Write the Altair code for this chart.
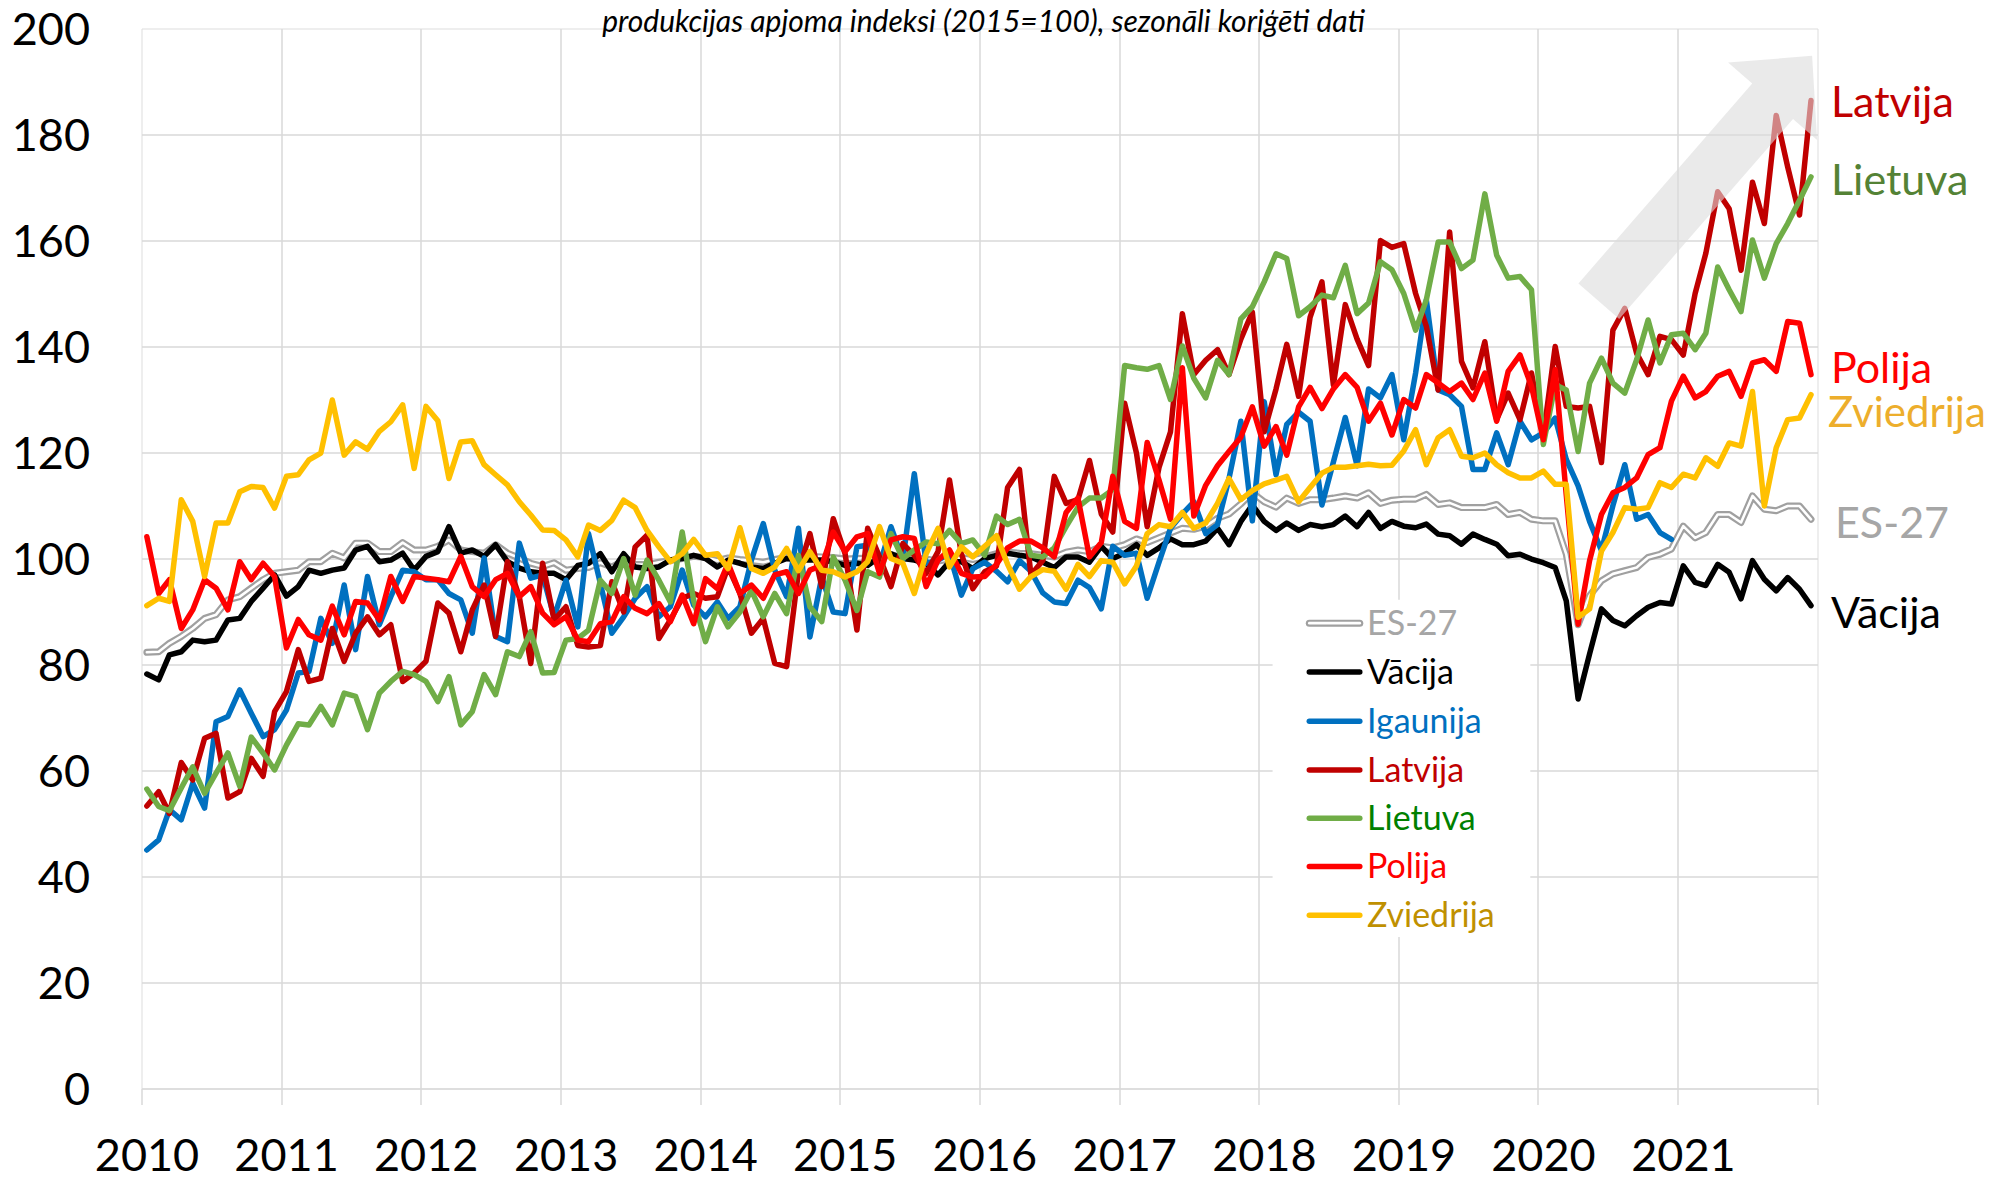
import altair as alt
import pandas as pd

# ---------------- data ----------------
series_names = ["ES-27", "Vācija", "Igaunija", "Latvija", "Lietuva", "Polija", "Zviedrija"]
line_colors = ["#A0A0A0", "#000000", "#0070C0", "#C00000", "#70AD47", "#FF0000", "#FFC000"]
legend_label_colors = ["#A6A6A6", "#000000", "#0070C0", "#C00000", "#008000", "#FF0000", "#BF9000"]

es27 = [
    82.3, 82.4, 84.0, 85.3, 86.8, 88.7, 89.4, 92.2, 92.8, 94.4, 96.0, 97.2,
    97.5, 97.8, 99.4, 99.4, 101.0, 100.1, 102.9, 102.9, 101.3, 101.3, 103.0, 101.6,
    101.6, 102.3, 103.5, 101.6, 101.3, 101.0, 102.6, 101.0, 100.1, 99.1, 98.5, 99.2,
    97.8, 98.1, 98.3, 99.2, 98.4, 99.6, 98.9, 98.8, 99.3, 99.6, 100.0, 100.4,
    100.2, 99.6, 100.1, 99.8, 99.6, 99.3, 99.8, 100.2, 100.1, 100.4, 100.3, 100.2,
    99.9, 100.0, 100.1, 100.4, 100.7, 100.2, 100.1, 99.9, 99.5, 99.9, 100.2, 99.8,
    100.3, 100.9, 101.2, 101.0, 100.9, 100.6, 100.3, 101.2, 101.6, 101.3, 102.3, 102.0,
    102.6, 103.7, 103.0, 103.9, 104.8, 105.7, 105.5, 106.1, 107.6, 108.4, 110.3, 112.4,
    110.7, 109.7, 111.4, 110.4, 111.1, 111.1, 111.4, 111.8, 111.4, 112.4, 110.4, 111.0,
    111.2, 111.2, 112.1, 110.2, 110.5, 109.6, 109.6, 109.6, 110.2, 108.3, 108.7, 107.4,
    107.1, 107.1, 100.8, 87.5, 93.0, 95.8, 97.1, 97.7, 98.3, 100.2, 100.8, 101.8,
    106.1, 103.9, 104.9, 108.3, 108.3, 106.8, 111.8, 109.3, 109.0, 109.9, 109.9, 107.4,
]
vacija = [
    78.2, 77.1, 81.8, 82.4, 84.6, 84.3, 84.6, 88.4, 88.7, 91.9, 94.4, 96.9,
    92.9, 94.7, 97.8, 97.2, 97.8, 98.2, 101.6, 102.3, 99.4, 99.7, 101.0, 97.8,
    100.4, 101.3, 106.0, 101.0, 101.6, 100.4, 102.6, 99.4, 98.2, 97.5, 97.2, 97.2,
    96.0, 98.7, 99.1, 100.9, 97.5, 100.9, 98.4, 98.1, 98.4, 99.7, 100.0, 100.6,
    100.0, 98.4, 99.7, 99.1, 98.4, 98.1, 99.1, 100.0, 99.7, 99.7, 99.7, 99.4,
    98.7, 99.1, 98.7, 100.3, 100.9, 100.0, 99.7, 99.1, 96.9, 99.4, 99.4, 98.1,
    100.0, 100.6, 101.0, 100.6, 100.3, 99.3, 98.3, 100.3, 100.3, 99.3, 102.3, 100.0,
    101.0, 102.6, 100.6, 102.0, 103.7, 102.6, 102.6, 103.3, 105.7, 102.6, 107.0, 110.1,
    107.0, 105.3, 106.7, 105.3, 106.4, 106.0, 106.4, 108.0, 106.0, 108.7, 105.7, 107.0,
    106.1, 105.8, 106.5, 104.6, 104.3, 102.7, 104.6, 103.6, 102.7, 100.5, 100.8, 99.9,
    99.2, 98.3, 92.0, 73.5, 82.0, 90.5, 88.3, 87.3, 89.2, 90.8, 91.7, 91.4,
    98.6, 95.5, 94.9, 98.9, 97.4, 92.4, 99.6, 96.1, 93.9, 96.4, 94.2, 91.1,
]
igaunija = [
    45.0, 46.9, 52.6, 50.7, 57.6, 52.9, 69.2, 70.2, 75.2, 70.8, 66.4, 67.7,
    71.4, 78.4, 78.7, 88.7, 84.0, 95.0, 82.8, 96.6, 87.5, 92.8, 97.8, 97.5,
    96.0, 96.0, 93.4, 92.2, 85.9, 100.1, 85.3, 84.3, 102.9, 96.3, 96.9, 89.0,
    95.9, 87.1, 104.7, 95.3, 85.9, 89.0, 92.5, 94.7, 89.0, 90.9, 97.8, 91.2,
    89.0, 91.8, 88.7, 90.9, 99.7, 106.6, 97.8, 92.8, 105.7, 85.2, 96.5, 89.9,
    89.6, 102.2, 102.5, 98.7, 106.0, 99.7, 116.0, 99.1, 99.7, 100.9, 93.1, 98.1,
    99.3, 97.6, 95.6, 99.6, 97.6, 93.5, 91.8, 91.5, 95.9, 94.5, 90.5, 102.3,
    100.6, 101.0, 92.5, 99.3, 105.7, 108.4, 110.7, 104.7, 106.4, 115.1, 125.9, 107.1,
    129.6, 115.8, 125.3, 127.6, 125.9, 110.1, 118.2, 126.6, 117.5, 132.0, 130.3, 134.7,
    122.4, 135.0, 148.8, 131.8, 130.9, 128.7, 116.8, 116.8, 123.7, 117.7, 125.9, 122.4,
    123.7, 126.5, 118.7, 113.7, 107.0, 101.5, 110.0, 117.7, 107.4, 108.3, 104.9, 103.6,
]
latvija = [
    53.3, 56.0, 51.9, 61.5, 58.2, 66.1, 67.0, 54.8, 56.0, 62.3, 58.9, 71.1,
    74.9, 82.8, 76.8, 77.4, 86.8, 80.6, 85.9, 89.0, 85.6, 87.5, 76.8, 78.4,
    80.6, 91.6, 89.7, 82.4, 90.3, 95.0, 85.3, 99.4, 92.8, 80.2, 99.1, 88.4,
    90.9, 83.6, 83.3, 83.6, 95.6, 89.9, 102.2, 104.4, 84.9, 88.4, 92.5, 93.4,
    92.5, 92.8, 98.4, 93.4, 85.9, 88.7, 80.2, 79.6, 97.5, 104.7, 94.7, 107.5,
    100.9, 86.5, 105.7, 100.3, 94.7, 102.8, 100.6, 97.2, 101.3, 114.8, 100.9, 94.3,
    97.5, 98.6, 113.4, 116.8, 96.9, 99.6, 115.5, 110.4, 111.1, 118.5, 108.4, 105.0,
    129.3, 119.9, 106.0, 117.2, 123.9, 146.2, 134.7, 137.4, 139.4, 134.7, 141.4, 146.5,
    123.9, 132.0, 140.4, 130.6, 145.5, 152.2, 132.7, 147.9, 141.4, 136.4, 160.0, 158.7,
    159.4, 150.0, 143.8, 131.8, 161.6, 137.2, 132.2, 140.9, 126.2, 131.2, 126.2, 135.0,
    123.1, 140.0, 128.7, 128.4, 128.7, 118.1, 143.1, 147.2, 138.7, 134.7, 141.9, 141.3,
    138.4, 150.0, 157.6, 169.2, 166.0, 154.4, 171.0, 163.2, 183.6, 173.9, 164.8, 186.4,
]
lietuva = [
    56.5, 53.2, 52.4, 56.7, 60.7, 55.7, 59.5, 63.3, 57.0, 66.3, 63.3, 60.1,
    64.8, 68.8, 68.6, 72.1, 68.6, 74.6, 74.0, 67.7, 74.6, 76.8, 78.7, 78.1,
    76.8, 73.0, 77.7, 68.6, 71.1, 78.1, 74.3, 82.4, 81.5, 86.2, 78.4, 78.5,
    84.6, 84.9, 86.5, 95.9, 93.4, 100.0, 93.1, 99.7, 95.9, 91.8, 105.0, 92.1,
    84.3, 90.9, 87.1, 89.9, 94.0, 89.0, 93.4, 89.6, 100.6, 90.9, 88.1, 100.3,
    95.9, 90.2, 97.5, 96.5, 104.7, 100.0, 101.6, 103.1, 102.8, 105.3, 102.8, 103.5,
    100.6, 108.0, 106.4, 107.4, 100.6, 100.3, 102.0, 106.0, 109.7, 111.4, 111.4, 113.0,
    136.4, 136.0, 135.7, 136.4, 130.0, 140.1, 134.0, 130.3, 137.4, 134.7, 145.2, 147.5,
    152.2, 157.5, 156.6, 145.8, 147.5, 149.7, 149.2, 155.3, 146.2, 148.2, 156.0, 154.5,
    150.0, 143.1, 148.8, 159.7, 159.7, 154.7, 156.3, 168.8, 157.2, 152.9, 153.2, 150.7,
    121.5, 132.8, 131.8, 120.2, 133.1, 137.8, 133.1, 131.2, 137.5, 145.0, 136.9, 142.2,
    142.5, 139.4, 142.5, 155.0, 150.7, 146.6, 160.1, 152.9, 159.4, 163.2, 167.6, 172.0,
]
polija = [
    104.1, 93.4, 96.0, 86.8, 90.3, 96.0, 94.4, 90.3, 99.4, 96.0, 99.1, 96.6,
    83.1, 88.5, 85.6, 84.6, 91.0, 85.6, 91.9, 91.6, 88.4, 96.6, 91.9, 96.6,
    96.3, 96.0, 95.6, 100.4, 94.7, 92.8, 96.0, 97.2, 92.8, 94.7, 89.7, 87.5,
    89.0, 84.6, 84.3, 87.7, 88.1, 92.8, 90.6, 89.6, 91.5, 88.1, 93.1, 87.7,
    96.2, 94.3, 99.1, 93.4, 95.0, 92.5, 96.9, 97.5, 93.4, 97.8, 98.7, 105.0,
    101.3, 104.1, 104.7, 97.2, 103.5, 104.1, 103.8, 94.7, 99.7, 101.6, 97.2, 96.5,
    96.6, 98.9, 102.0, 103.3, 103.3, 102.0, 100.3, 108.7, 111.4, 100.3, 103.0, 115.5,
    107.0, 105.7, 121.9, 114.8, 107.4, 136.0, 108.0, 113.8, 117.5, 120.2, 122.9, 128.6,
    121.2, 124.9, 119.5, 128.6, 132.3, 128.3, 132.0, 134.7, 132.3, 125.9, 129.3, 123.3,
    130.0, 128.4, 134.7, 133.1, 131.5, 133.1, 130.0, 135.0, 125.9, 135.3, 138.4, 132.5,
    122.4, 135.6, 112.0, 87.6, 99.6, 108.3, 112.4, 113.4, 115.2, 119.6, 120.9, 129.7,
    134.4, 130.3, 131.5, 134.4, 135.3, 130.6, 136.9, 137.5, 135.3, 144.7, 144.4, 134.7,
]
zviedrija = [
    91.1, 92.5, 91.9, 111.1, 107.0, 96.6, 106.7, 106.7, 112.6, 113.6, 113.4, 109.5,
    115.5, 115.8, 118.6, 119.9, 129.9, 119.5, 122.0, 120.6, 124.0, 125.8, 129.0, 117.0,
    128.7, 126.0, 115.1, 122.0, 122.2, 117.7, 115.8, 113.9, 110.7, 108.2, 105.4, 105.3,
    103.5, 100.3, 106.3, 105.3, 107.2, 111.0, 109.6, 105.3, 102.2, 99.4, 100.9, 103.6,
    100.6, 100.9, 98.1, 105.8, 98.1, 97.2, 98.4, 101.9, 97.7, 101.3, 97.8, 97.5,
    96.5, 97.5, 99.4, 106.0, 100.0, 99.1, 93.4, 100.9, 105.7, 98.4, 102.2, 100.3,
    102.3, 104.3, 98.9, 94.2, 96.6, 97.9, 97.6, 94.2, 98.9, 96.6, 99.6, 99.3,
    95.2, 98.6, 104.7, 106.4, 106.0, 108.7, 105.7, 106.7, 110.4, 115.1, 111.1, 112.8,
    114.1, 114.8, 115.5, 110.7, 113.4, 116.1, 117.2, 117.2, 117.5, 117.8, 117.5, 117.6,
    120.3, 124.3, 117.7, 122.8, 124.3, 119.3, 119.0, 119.9, 117.7, 116.2, 115.2, 115.2,
    116.5, 114.0, 114.0, 88.9, 90.5, 101.4, 104.9, 109.6, 109.3, 109.6, 114.3, 113.4,
    115.9, 115.2, 119.0, 117.4, 121.8, 121.2, 131.5, 109.9, 120.9, 126.2, 126.5, 130.9,
]
series_values = [es27, vacija, igaunija, latvija, lietuva, polija, zviedrija]

# end-of-line labels
end_labels = ["Latvija", "Lietuva", "Polija", "Zviedrija", "ES-27", "Vācija"]
end_label_colors = ["#C00000", "#548235", "#FF0000", "#EDAE2C", "#A6A6A6", "#000000"]
end_label_values = [185.7, 171.0, 135.6, 127.2, 106.4, 89.3]

# legend rows (value positions of the entries, in data units)
legend_row_values = [87.8, 78.6, 69.3, 60.1, 51.0, 41.9, 32.7]
legend_box = {"x": "2018-02-06", "x2": "2019-12-12", "y": 92.2, "y2": 28.6}
legend_sym = {"x": "2018-05-13", "x2": "2018-09-22"}
legend_text_x = "2018-10-11"

# arrow annotation (centre of the arrow in data units)
arrow_date = ["2021-03-14"]
arrow_value = [171.7]

title_text = "produkcijas apjoma indeksi (2015=100), sezonāli koriģēti dati"

# ---------------- build tables ----------------
dates = pd.date_range("2010-01-01", periods=144, freq="MS") + pd.Timedelta(days=14)
rows = []
for name, vals in zip(series_names, series_values):
    for d, v in zip(dates, vals):
        rows.append({"series": name, "date": d, "value": v})
df = pd.DataFrame(rows)

last_date = dates[-1]
lab_df = pd.DataFrame({"series": end_labels, "date": [last_date] * len(end_labels),
                       "value": end_label_values})
arrow_df = pd.DataFrame({"date": pd.to_datetime(arrow_date), "value": arrow_value})
leg_df = pd.DataFrame({
    "series": series_names,
    "value": legend_row_values,
    "x": pd.to_datetime([legend_sym["x"]] * 7),
    "x2": pd.to_datetime([legend_sym["x2"]] * 7),
    "tx": pd.to_datetime([legend_text_x] * 7),
})
box_df = pd.DataFrame({"x": pd.to_datetime([legend_box["x"]]),
                       "x2": pd.to_datetime([legend_box["x2"]]),
                       "y": [legend_box["y"]], "y2": [legend_box["y2"]]})
title_df = pd.DataFrame({"t": [title_text]})

# ---------------- scales / axes ----------------
FONT = "Lato"
GRID = "#D9D9D9"
W, H = 1676, 1060
x_scale = alt.Scale(domain=[alt.DateTime(year=2010, month=1, date=1),
                            alt.DateTime(year=2022, month=1, date=1)])
y_scale = alt.Scale(domain=[0, 200], nice=False)

x_axis = alt.Axis(
    values=[alt.DateTime(year=y, month=1, date=1) for y in range(2010, 2023)],
    labelExpr="year(datum.value) >= 2022 ? '' : timeFormat(datum.value, '%Y')",
    labelFont=FONT, labelFontSize=45, labelColor="#000000", labelPadding=30,
    labelOffset=5, labelAngle=0, labelFlush=False, labelBound=False,
    ticks=True, tickSize=16, tickColor=GRID, tickWidth=1.5,
    grid=True, gridColor=GRID, gridWidth=1.5,
    gridOpacity={"condition": {"test": "year(datum.value) == 2010 || year(datum.value) == 2022",
                               "value": 0}, "value": 1},
    domain=False, title=None, labelOverlap=False,
)
y_axis = alt.Axis(
    values=list(range(0, 201, 20)),
    labelFont=FONT, labelFontSize=45, labelColor="#000000", labelPadding=52,
    labelOffset=2, labelFlush=False,
    ticks=False, domain=False, title=None,
    grid=True, gridColor=GRID, gridWidth=1.5,
    gridOpacity={"condition": {"test": "datum.value >= 200", "value": 0}, "value": 1},
)
color_scale = alt.Scale(domain=series_names, range=line_colors)

X = alt.X("date:T", scale=x_scale, axis=x_axis)
Y = alt.Y("value:Q", scale=y_scale, axis=y_axis)
C = alt.Color("series:N", scale=color_scale, legend=None)
LW = 5.5

layers = []
# white legend box (hides the grid behind the legend)
layers.append(alt.Chart(box_df).mark_rect(color="white").encode(
    x=alt.X("x:T", scale=x_scale, axis=x_axis), x2="x2:T",
    y=alt.Y("y:Q", scale=y_scale, axis=y_axis), y2="y2:Q"))

base = alt.Chart(df)
# ES-27 double line: grey outer, white inner
layers.append(base.transform_filter(alt.datum.series == "ES-27")
              .mark_line(strokeWidth=7, strokeJoin="round", strokeCap="round")
              .encode(x=X, y=Y, color=C))
layers.append(base.transform_filter(alt.datum.series == "ES-27")
              .mark_line(strokeWidth=2.6, strokeJoin="round", strokeCap="round", color="white")
              .encode(x=X, y=Y))
for name in series_names[1:]:
    layers.append(base.transform_filter(alt.datum.series == name)
                  .mark_line(strokeWidth=LW, strokeJoin="round", strokeCap="round")
                  .encode(x=X, y=Y, color=C))

# legend: symbols + labels
leg = alt.Chart(leg_df)
LX = alt.X("x:T", scale=x_scale, axis=x_axis)
LY = alt.Y("value:Q", scale=y_scale, axis=y_axis)
layers.append(leg.transform_filter(alt.datum.series == "ES-27")
              .mark_rule(strokeWidth=7, strokeCap="round")
              .encode(x=LX, x2="x2:T", y=LY, color=C))
layers.append(leg.transform_filter(alt.datum.series == "ES-27")
              .mark_rule(strokeWidth=2.6, strokeCap="round", color="white")
              .encode(x=LX, x2="x2:T", y=LY))
layers.append(leg.transform_filter(alt.datum.series != "ES-27")
              .mark_rule(strokeWidth=LW, strokeCap="round")
              .encode(x=LX, x2="x2:T", y=LY, color=C))
layers.append(leg.mark_text(align="left", baseline="middle", dy=2, font=FONT, fontSize=34)
              .encode(x=alt.X("tx:T", scale=x_scale, axis=x_axis), y=LY, text="series:N",
                      fill=alt.Fill("series:N", scale=alt.Scale(domain=series_names,
                                                                range=legend_label_colors),
                                    legend=None)))

# translucent arrow
arrow_path = ("M-0.458,2.755L-0.458,-1.735L-1,-1.735L0,-2.755L1,-1.735"
              "L0.458,-1.735L0.458,2.755Z")
layers.append(alt.Chart(arrow_df).mark_point(
    shape=arrow_path, size=13924, angle=41, filled=True, color="#DCDCDC",
    opacity=0.6, strokeWidth=0).encode(x=X, y=Y))

# end labels
end_dx = {"ES-27": 24, "Zviedrija": 17}
end_fs = {"Zviedrija": 42}
for name, col in zip(end_labels, end_label_colors):
    layers.append(alt.Chart(lab_df).transform_filter(alt.datum.series == name)
                  .mark_text(align="left", baseline="middle", dx=end_dx.get(name, 20),
                             font=FONT, fontSize=end_fs.get(name, 43), color=col)
                  .encode(x=X, y=Y, text="series:N"))

# title line above the plot
layers.append(alt.Chart(title_df).mark_text(
    align="center", baseline="alphabetic", font=FONT, fontSize=30, fontStyle="italic",
    color="#000000").encode(x=alt.value(W / 2 + 4), y=alt.value(3.5), text="t:N"))

chart = alt.layer(*layers).properties(
    width=W, height=H,
    padding={"left": 133.5, "top": 20.5, "right": 171.5, "bottom": 91.5},
    autosize=alt.AutoSizeParams(type="none"),
).configure_view(stroke=None).configure(background="white")

chart.save("out.html", embed_options={"renderer": "svg", "actions": False})
